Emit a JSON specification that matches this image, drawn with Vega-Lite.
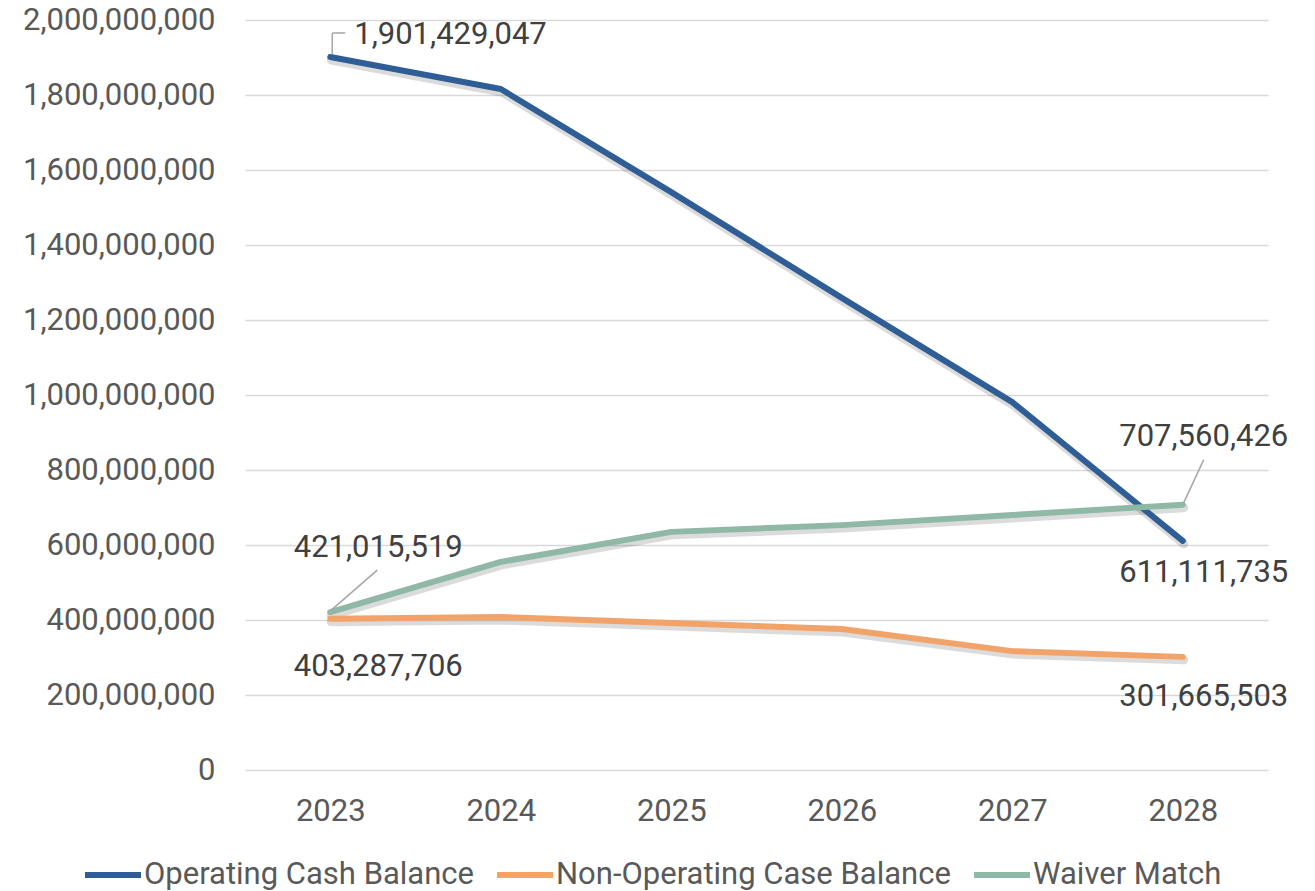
{
  "$schema": "https://vega.github.io/schema/vega-lite/v6.json",
  "width": 1023,
  "height": 750,
  "autosize": {"type": "none"},
  "padding": {"left": 245, "top": 20, "right": 47, "bottom": 121},
  "background": "white",
  "config": {
    "view": {"stroke": null},
    "font": "Roboto",
    "axis": {"labelFont": "Roboto", "labelFontSize": 31, "labelColor": "#595959", "labelLimit": 0, "title": null, "domain": false, "ticks": false},
    "legend": {"labelFont": "Roboto"}
  },
  "data": {
    "values": [
      {"year": "2023", "series": "Operating Cash Balance", "value": 1901429047},
      {"year": "2024", "series": "Operating Cash Balance", "value": 1816000000},
      {"year": "2025", "series": "Operating Cash Balance", "value": 1541000000},
      {"year": "2026", "series": "Operating Cash Balance", "value": 1259000000},
      {"year": "2027", "series": "Operating Cash Balance", "value": 981000000},
      {"year": "2028", "series": "Operating Cash Balance", "value": 611111735},
      {"year": "2023", "series": "Non-Operating Case Balance", "value": 403287706},
      {"year": "2024", "series": "Non-Operating Case Balance", "value": 408000000},
      {"year": "2025", "series": "Non-Operating Case Balance", "value": 392000000},
      {"year": "2026", "series": "Non-Operating Case Balance", "value": 376000000},
      {"year": "2027", "series": "Non-Operating Case Balance", "value": 317000000},
      {"year": "2028", "series": "Non-Operating Case Balance", "value": 301665503},
      {"year": "2023", "series": "Waiver Match", "value": 421015519},
      {"year": "2024", "series": "Waiver Match", "value": 555000000},
      {"year": "2025", "series": "Waiver Match", "value": 635000000},
      {"year": "2026", "series": "Waiver Match", "value": 653000000},
      {"year": "2027", "series": "Waiver Match", "value": 680000000},
      {"year": "2028", "series": "Waiver Match", "value": 707560426}
    ]
  },
  "encoding": {
    "x": {
      "field": "year",
      "type": "ordinal",
      "scale": {"type": "point", "padding": 0.5},
      "axis": {"labelAngle": 0, "labelPadding": 26, "grid": false}
    },
    "y": {
      "field": "value",
      "type": "quantitative",
      "scale": {"domain": [0, 2000000000], "nice": false},
      "axis": {
        "values": [0, 200000000, 400000000, 600000000, 800000000, 1000000000, 1200000000, 1400000000, 1600000000, 1800000000, 2000000000],
        "format": ",d",
        "grid": true,
        "gridColor": "#D9D9D9",
        "gridWidth": 1.5,
        "labelPadding": 30
      }
    }
  },
  "layer": [
    {
      "mark": {"type": "line", "color": "#000000", "opacity": 0.14, "strokeWidth": 9, "strokeCap": "round", "strokeJoin": "round", "xOffset": 1, "yOffset": 3},
      "encoding": {"detail": {"field": "series"}}
    },
    {
      "mark": {"type": "line", "strokeWidth": 6, "strokeCap": "round", "strokeJoin": "round"},
      "encoding": {
        "color": {
          "field": "series",
          "type": "nominal",
          "scale": {
            "domain": ["Operating Cash Balance", "Non-Operating Case Balance", "Waiver Match"],
            "range": ["#2F5D96", "#F2A36A", "#8FB8A6"]
          },
          "legend": {
            "orient": "none",
            "legendX": -163,
            "legendY": 824,
            "direction": "horizontal",
            "title": null,
            "symbolType": "stroke",
            "symbolStrokeWidth": 6,
            "symbolSize": 3136,
            "labelFontSize": 31,
            "labelColor": "#595959",
            "labelLimit": 0,
            "labelOffset": 0,
            "columnPadding": 11,
            "padding": 0
          }
        }
      }
    },
    {
      "transform": [{"filter": "datum.series == 'Operating Cash Balance' && datum.year == '2023'"}],
      "mark": {"type": "rule", "color": "#A6A6A6", "strokeWidth": 1.5, "xOffset": 2, "yOffset": -3, "x2Offset": 2, "y2Offset": -24},
      "encoding": {"x2": {"field": "year"}, "y2": {"field": "value"}}
    },
    {
      "transform": [{"filter": "datum.series == 'Operating Cash Balance' && datum.year == '2023'"}],
      "mark": {"type": "rule", "color": "#A6A6A6", "strokeWidth": 1.5, "xOffset": 2, "yOffset": -24, "x2Offset": 15, "y2Offset": -24},
      "encoding": {"x2": {"field": "year"}, "y2": {"field": "value"}}
    },
    {
      "transform": [{"filter": "datum.series == 'Waiver Match' && datum.year == '2023'"}],
      "mark": {"type": "rule", "color": "#A6A6A6", "strokeWidth": 1.5, "xOffset": 1, "yOffset": -2, "x2Offset": 47, "y2Offset": -42},
      "encoding": {"x2": {"field": "year"}, "y2": {"field": "value"}}
    },
    {
      "transform": [{"filter": "datum.series == 'Waiver Match' && datum.year == '2028'"}],
      "mark": {"type": "rule", "color": "#A6A6A6", "strokeWidth": 1.5, "xOffset": 1, "yOffset": -2, "x2Offset": 21, "y2Offset": -45},
      "encoding": {"x2": {"field": "year"}, "y2": {"field": "value"}}
    },
    {
      "transform": [{"filter": "datum.series == 'Operating Cash Balance' && datum.year == '2023'"}],
      "mark": {"type": "text", "fontSize": 31, "color": "#404040", "align": "left", "baseline": "middle", "dx": 24, "dy": -22},
      "encoding": {"text": {"field": "value", "type": "quantitative", "format": ",d"}}
    },
    {
      "transform": [{"filter": "datum.series == 'Waiver Match' && datum.year == '2023'"}],
      "mark": {"type": "text", "fontSize": 31, "color": "#404040", "align": "center", "baseline": "middle", "dx": 48, "dy": -64},
      "encoding": {"text": {"field": "value", "type": "quantitative", "format": ",d"}}
    },
    {
      "transform": [{"filter": "datum.series == 'Non-Operating Case Balance' && datum.year == '2023'"}],
      "mark": {"type": "text", "fontSize": 31, "color": "#404040", "align": "center", "baseline": "middle", "dx": 48, "dy": 48},
      "encoding": {"text": {"field": "value", "type": "quantitative", "format": ",d"}}
    },
    {
      "transform": [{"filter": "datum.series == 'Waiver Match' && datum.year == '2028'"}],
      "mark": {"type": "text", "fontSize": 31, "color": "#404040", "align": "center", "baseline": "middle", "dx": 21, "dy": -68},
      "encoding": {"text": {"field": "value", "type": "quantitative", "format": ",d"}}
    },
    {
      "transform": [{"filter": "datum.series == 'Operating Cash Balance' && datum.year == '2028'"}],
      "mark": {"type": "text", "fontSize": 31, "color": "#404040", "align": "center", "baseline": "middle", "dx": 21, "dy": 32},
      "encoding": {"text": {"field": "value", "type": "quantitative", "format": ",d"}}
    },
    {
      "transform": [{"filter": "datum.series == 'Non-Operating Case Balance' && datum.year == '2028'"}],
      "mark": {"type": "text", "fontSize": 31, "color": "#404040", "align": "center", "baseline": "middle", "dx": 21, "dy": 40},
      "encoding": {"text": {"field": "value", "type": "quantitative", "format": ",d"}}
    }
  ]
}
